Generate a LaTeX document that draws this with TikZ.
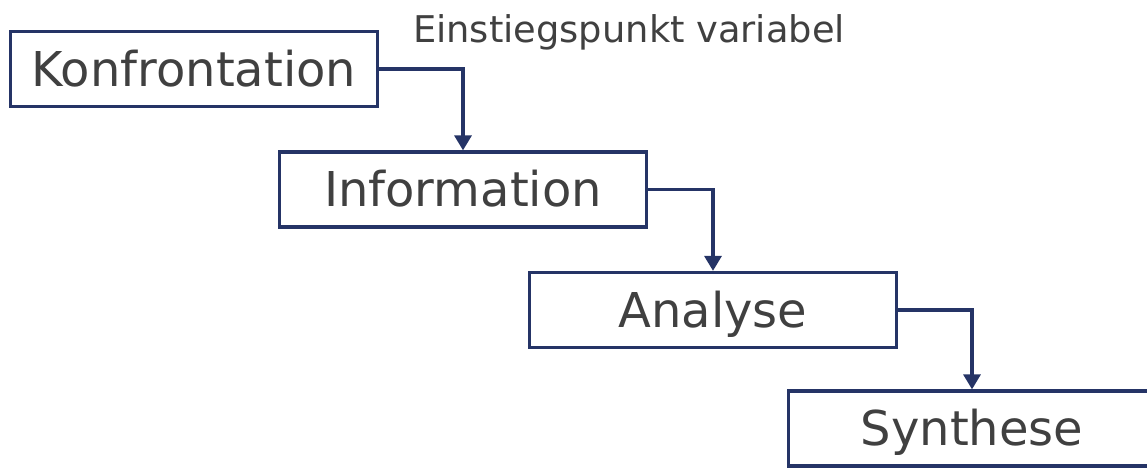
\documentclass[tikz,border=0pt]{standalone}
\usepackage{fontspec}
\setmainfont{DejaVu Sans}
\usetikzlibrary{arrows.meta}
\definecolor{navy}{HTML}{253466}
\definecolor{txt}{HTML}{404040}
\tikzset{
  stage/.style={draw=navy, line width=3.3pt, minimum width=367pt, minimum height=75pt,
    inner sep=0pt, text=txt, font=\fontsize{48pt}{50pt}\selectfont,
    text height=34pt, text depth=0pt},
  flow/.style={draw=navy, line width=3.3pt, -{Triangle[width=17pt,length=15pt]}},
}
\begin{document}
\begin{tikzpicture}[x=1pt,y=-1pt]
\useasboundingbox (0,0) rectangle (1147,467);
\node[stage] (k) at (194,69) {Konfrontation};
\node[stage] (i) at (463,189.5) {Information};
\node[stage] (a) at (713,310) {Analyse};
\node[stage] (s) at (972,428.5) {Synthese};
\node[anchor=base, text=txt, font=\fontsize{36.8pt}{40pt}\selectfont, inner sep=0pt] (e) at (629,42) {Einstiegspunkt variabel};
\draw[flow] (k.east) -| (i.north);
\draw[flow] (i.east) -| (a.north);
\draw[flow] (a.east) -| (s.north);
\end{tikzpicture}
\end{document}
